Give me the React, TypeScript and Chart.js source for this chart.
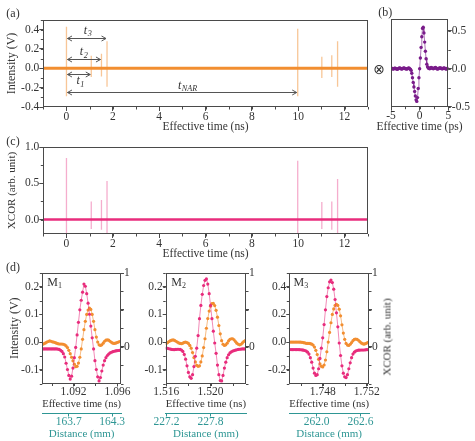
import React, { useEffect, useRef } from 'react';
import { Chart, registerables } from 'chart.js';

Chart.register(...registerables);

const FONT = "'Liberation Serif', 'Times New Roman', serif";
const ORANGE = 'rgb(242,142,48)';
const ORANGE_LIGHT = 'rgba(242,142,48,0.5)';
const ORANGE_LINE = 'rgba(242,142,48,0.6)';
const PINK = 'rgb(232,44,124)';
const PINK_LIGHT = 'rgba(232,60,135,0.42)';
const PINK_LINE = 'rgba(232,44,124,0.55)';
const PURPLE = 'rgb(122,28,138)';
const PURPLE_LINE = 'rgba(122,28,138,0.6)';
const TEAL = 'rgb(46,150,148)';
const AXIS = '#4a4a4a';
const TEXT = '#333';

// ---------- panel (a): intensity trace ----------
const A_BASE_T = [-1, 13];
const A_BASE_V = [0, 0];
const A_SPIKE_T = [0, 1.07, 1.51, 1.75, 9.98, 11.02, 11.45, 11.7];
const A_SPIKE_TOP = [0.43, 0.13, 0.15, 0.28, 0.41, 0.12, 0.135, 0.28];
const A_SPIKE_BOT = [-0.29, -0.09, -0.085, -0.19, -0.29, -0.1, -0.09, -0.19];
const A_X_TICKS = [0, 2, 4, 6, 8, 10, 12];
const A_Y_TICKS = [-0.4, -0.2, 0, 0.2, 0.4];
const A_ARROW_FROM = [0, 0, 0, 0];
const A_ARROW_TO = [1.75, 1.51, 1.07, 9.98];
const A_ARROW_Y = [0.31, 0.1, -0.055, -0.24];
const A_ARROW_MAIN = ['t', 't', 't', 't'];
const A_ARROW_SUB = ['3', '2', '1', 'NAR'];
const A_LABEL_T = [0.82, 0.65, 0.5, 4.88];
const A_LABEL_Y = [0.39, 0.168, -0.134, -0.176];

// ---------- panel (b): reference pulse ----------
const B_T0 = -5;
const B_DT = 0.125;
const B_V = [
  0.0, 0.005, 0.0, -0.005, 0.0, 0.008, 0.005, 0.0, -0.005, -0.008, 0.0, 0.005, 0.01, 0.005, 0.0,
  -0.005, 0.0, 0.008, 0.01, 0.005, 0.0, 0.0, -0.005, 0.0, 0.005, 0.01, 0.0,
  -0.005, -0.02, -0.06, -0.12, -0.18, -0.24, -0.3, -0.36, -0.41, -0.43, -0.38, -0.26, -0.12, 0.0,
  0.14, 0.28, 0.42, 0.53, 0.545, 0.47, 0.35, 0.23, 0.13, 0.06, 0.025, 0.01,
  0.005, 0.0, 0.01, 0.015, 0.01, 0.005, 0.0, 0.005, 0.01, 0.015, 0.01, 0.0, -0.005, 0.0, 0.005,
  0.01, 0.01, 0.005, 0.0, 0.0, 0.005, 0.01, 0.005, 0.0, -0.005, 0.0, 0.005, 0.0,
];
const B_X_TICKS = [-5, 0, 5];
const B_Y_TICKS = [-0.5, 0, 0.5];

// ---------- panel (c): XCOR trace ----------
const C_BASE_T = [-1, 13];
const C_BASE_V = [0, 0];
const C_SPIKE_T = [0, 1.07, 1.51, 1.75, 9.98, 11.02, 11.45, 11.7];
const C_SPIKE_TOP = [0.85, 0.25, 0.27, 0.53, 0.81, 0.24, 0.25, 0.56];
const C_SPIKE_BOT = [-0.2, -0.13, -0.14, -0.2, -0.2, -0.13, -0.14, -0.2];
const C_Y_TICKS = [0, 0.5, 1];

// ---------- panel (d): zooms M1, M2, M3 (sampled every 0.125 ps) ----------
const D_DT = 0.000125;
const M1_T0 = 1.0892;
const M1_ORANGE = [
  -0.008, -0.006, -0.003, 0.0, 0.002, 0.004, 0.003, 0.001, 0.0, -0.002, -0.004, -0.006, -0.007,
  -0.007, -0.007, -0.008, -0.01, -0.014, -0.02, -0.03, -0.042, -0.055, -0.068, -0.08, -0.089,
  -0.088, -0.076, -0.055, -0.025, 0.01, 0.045, 0.075, 0.1, 0.116, 0.123, 0.118, 0.1, 0.075, 0.045,
  0.018, 0.0, -0.01, -0.012, -0.01, -0.004, 0.003, 0.007, 0.008, 0.007, 0.003, -0.001, -0.004,
  -0.005, -0.004, -0.002, 0.0, 0.002,
];
const M1_PINK = [
  -0.03, -0.03, -0.03, -0.03, -0.03, -0.03, -0.03, -0.03, -0.03, -0.031, -0.031, -0.033, -0.037,
  -0.05, -0.065, -0.095, -0.14, -0.225, -0.31, -0.39, -0.44, -0.4, -0.29, -0.15, -0.01, 0.16, 0.33,
  0.5, 0.63, 0.74, 0.85, 0.82, 0.72, 0.59, 0.44, 0.28, 0.12, -0.03, -0.19, -0.31, -0.41, -0.465,
  -0.42, -0.33, -0.25, -0.19, -0.15, -0.12, -0.1, -0.085, -0.076, -0.068, -0.062, -0.058, -0.055,
  -0.052, -0.05,
];
const M2_T0 = 1.516;
const M2_ORANGE = [
  -0.005, -0.002, 0.002, 0.005, 0.007, 0.008, 0.006, 0.003, 0.0, -0.003, -0.005, -0.006, -0.004,
  -0.001, 0.0, -0.002, -0.005, -0.012, -0.022, -0.038, -0.056, -0.072, -0.084, -0.088, -0.086,
  -0.072, -0.05, -0.02, 0.012, 0.05, 0.085, 0.112, 0.13, 0.139, 0.14, 0.132, 0.115, 0.09, 0.06,
  0.03, 0.005, -0.008, -0.012, -0.01, -0.004, 0.004, 0.01, 0.012, 0.012, 0.008, 0.002, -0.004,
  -0.008, -0.01, -0.008, -0.003, 0.002, 0.005,
];
const M2_PINK = [
  -0.02, -0.023, -0.028, -0.033, -0.037, -0.04, -0.04, -0.038, -0.035, -0.035, -0.038, -0.046,
  -0.065, -0.105, -0.17, -0.26, -0.35, -0.41, -0.43, -0.38, -0.27, -0.13, -0.02, 0.15, 0.38, 0.56,
  0.71, 0.83, 0.9, 0.92, 0.85, 0.72, 0.56, 0.38, 0.21, 0.05, -0.09, -0.25, -0.38, -0.46, -0.465,
  -0.39, -0.29, -0.21, -0.15, -0.11, -0.085, -0.07, -0.06, -0.053, -0.047, -0.042, -0.038, -0.035,
  -0.033, -0.031, -0.03, -0.03,
];
const M3_T0 = 1.745;
const M3_ORANGE = [
  0.0, 0.0, 0.0, 0.0, 0.0, 0.0, 0.0, 0.0, -0.001, -0.002, -0.004, -0.006, -0.009, -0.01, -0.01,
  -0.012, -0.015, -0.022, -0.036, -0.06, -0.09, -0.125, -0.158, -0.176, -0.18, -0.166, -0.13, -0.07,
  0.0, 0.07, 0.14, 0.2, 0.24, 0.265, 0.273, 0.265, 0.238, 0.19, 0.125, 0.065, 0.02, -0.01, -0.022,
  -0.024, -0.016, -0.004, 0.01, 0.019, 0.022, 0.02, 0.013, 0.003, -0.006, -0.012, -0.015, -0.012,
  -0.007, -0.002,
];
const M3_PINK = [
  -0.04, -0.04, -0.04, -0.04, -0.04, -0.04, -0.04, -0.041, -0.042, -0.044, -0.047, -0.052, -0.06,
  -0.075, -0.1, -0.15, -0.21, -0.29, -0.36, -0.39, -0.38, -0.3, -0.16, -0.02, 0.12, 0.3, 0.5, 0.68,
  0.8, 0.88, 0.905, 0.87, 0.78, 0.64, 0.46, 0.27, 0.05, -0.12, -0.26, -0.36, -0.41, -0.42, -0.38,
  -0.3, -0.22, -0.15, -0.1, -0.075, -0.06, -0.052, -0.048, -0.046, -0.045, -0.045, -0.045, -0.043,
  -0.041, -0.04,
];
const M1_X_TICKS = [1.092, 1.096];
const M2_X_TICKS = [1.516, 1.52];
const M3_X_TICKS = [1.748, 1.752];
const M12_Y_TICKS = [-0.1, 0, 0.1, 0.2];
const M3_Y_TICKS = [-0.2, 0, 0.2, 0.4];
const XCOR_TICKS = [0, 0.5, 1];
const M1_D_TICKS = [163.7, 164.3];
const M2_D_TICKS = [227.2, 227.8];
const M3_D_TICKS = [262.0, 262.6];

// ---------- helpers ----------
const sampleGrid = (start: number, step: number, n: number) =>
  Array.from({ length: n }, (_, i) => +(start + step * i).toFixed(7));
const pts = (xs: number[], ys: (number | null)[]) => xs.map((x, i) => ({ x, y: ys[i] }));
const spikes = (t: number[], top: number[], bot: number[]) =>
  t.flatMap((x, i) => [{ x, y: bot[i] }, { x, y: top[i] }, { x, y: null }]);

const framePlugin = {
  id: 'frame',
  afterDraw(chart: any, _a: any, opts: any) {
    const { ctx, chartArea: a } = chart;
    ctx.save();
    ctx.strokeStyle = AXIS;
    ctx.lineWidth = 1;
    const l = Math.round(a.left) + 0.5, t = Math.round(a.top) + 0.5;
    const r = Math.round(a.right) - 0.5, b = Math.round(a.bottom) - 0.5;
    ctx.strokeRect(l, t, r - l, b - t);
    for (const m of (opts && opts.minor) || []) {
      const s = chart.scales[m.id];
      if (!s) continue;
      const len = m.len ?? 2.5;
      ctx.strokeStyle = m.color || AXIS;
      const k0 = Math.ceil((s.min - 1e-9) / m.step);
      for (let k = k0; k * m.step <= s.max + 1e-9; k++) {
        const p = Math.round(s.getPixelForValue(k * m.step)) + 0.5;
        ctx.beginPath();
        if (s.isHorizontal()) {
          ctx.moveTo(p, s.top);
          ctx.lineTo(p, s.top + len);
        } else if (s.position === 'left') {
          ctx.moveTo(s.right, p);
          ctx.lineTo(s.right - len, p);
        } else {
          ctx.moveTo(s.left, p);
          ctx.lineTo(s.left + len, p);
        }
        ctx.stroke();
      }
    }
    ctx.restore();
  },
};

function drawSubLabel(ctx: CanvasRenderingContext2D, cx: number, cy: number, main: string, sub: string, size: number) {
  ctx.textBaseline = 'middle';
  ctx.textAlign = 'left';
  ctx.font = `italic ${size}px ${FONT}`;
  const w1 = ctx.measureText(main).width;
  const x0 = cx - w1 / 2;
  ctx.fillText(main, x0, cy);
  ctx.font = `italic ${size * 0.68}px ${FONT}`;
  ctx.fillText(sub, x0 + w1 + 0.5, cy + size * 0.3);
}

const arrowPlugin = {
  id: 'arrows',
  afterDatasetsDraw(chart: any) {
    const { ctx } = chart;
    const xs = chart.scales.x, ys = chart.scales.y;
    ctx.save();
    ctx.strokeStyle = '#555';
    ctx.fillStyle = TEXT;
    ctx.lineWidth = 1;
    A_ARROW_FROM.forEach((f, i) => {
      const x1 = xs.getPixelForValue(f) + 1;
      const x2 = xs.getPixelForValue(A_ARROW_TO[i]) - 1;
      const y = Math.round(ys.getPixelForValue(A_ARROW_Y[i])) + 0.5;
      ctx.beginPath();
      ctx.moveTo(x1, y);
      ctx.lineTo(x2, y);
      ctx.moveTo(x1 + 4.5, y - 2.5);
      ctx.lineTo(x1, y);
      ctx.lineTo(x1 + 4.5, y + 2.5);
      ctx.moveTo(x2 - 4.5, y - 2.5);
      ctx.lineTo(x2, y);
      ctx.lineTo(x2 - 4.5, y + 2.5);
      ctx.stroke();
      drawSubLabel(ctx, xs.getPixelForValue(A_LABEL_T[i]), ys.getPixelForValue(A_LABEL_Y[i]), A_ARROW_MAIN[i], A_ARROW_SUB[i], 12);
    });
    ctx.restore();
  },
};

type AxisOpt = {
  pos: 'left' | 'right' | 'bottom';
  min: number;
  max: number;
  ticks: number[];
  fmt: (v: number) => string;
  size: number;
  tickLen?: number;
  color?: string;
  labelColor?: string;
  title?: string;
  titleSize?: number;
  titlePad?: any;
  border?: boolean;
  weight?: number;
};

function axis(o: AxisOpt) {
  const vertical = o.pos === 'left' || o.pos === 'right';
  return {
    type: 'linear',
    position: o.pos,
    min: o.min,
    max: o.max,
    weight: o.weight ?? 0,
    afterBuildTicks: (s: any) => {
      s.ticks = o.ticks.map((v) => ({ value: v }));
    },
    afterFit: (s: any) => {
      if (vertical) s.width = o.size;
      else s.height = o.size;
    },
    grid: {
      display: true,
      drawOnChartArea: false,
      drawTicks: true,
      tickLength: o.tickLen ?? 4,
      color: o.color ?? AXIS,
      lineWidth: 1,
    },
    border: { display: !!o.border, color: o.color ?? AXIS, width: 1 },
    ticks: {
      callback: (v: any) => o.fmt(Number(v)),
      color: o.labelColor ?? TEXT,
      padding: 0,
      autoSkip: false,
      maxRotation: 0,
      font: { family: FONT, size: 11.5, lineHeight: 1 },
    },
    title: o.title
      ? {
          display: true,
          text: o.title,
          color: o.labelColor ?? TEXT,
          font: { family: FONT, size: o.titleSize ?? 12, lineHeight: 1.2 },
          padding: o.titlePad,
        }
      : { display: false },
  };
}

function baseOptions(padding: any, scales: any, minor: any[]) {
  return {
    responsive: false,
    animation: false,
    devicePixelRatio: 1,
    events: [],
    layout: { padding },
    scales,
    plugins: {
      legend: { display: false },
      tooltip: { enabled: false },
      frame: { minor },
    },
  };
}

function cfgA() {
  return {
    type: 'line',
    data: {
      datasets: [
        { data: pts(A_BASE_T, A_BASE_V), borderColor: ORANGE, borderWidth: 3, pointRadius: 0 },
        { data: spikes(A_SPIKE_T, A_SPIKE_TOP, A_SPIKE_BOT), borderColor: ORANGE_LIGHT, borderWidth: 1.3, pointRadius: 0, spanGaps: false },
      ],
    },
    options: baseOptions(
      { left: 0, top: 20, right: 2.3, bottom: 0 },
      {
        x: axis({ pos: 'bottom', min: -1, max: 13, ticks: A_X_TICKS, fmt: (v) => String(v), size: 28, title: 'Effective time (ns)', titleSize: 11.5, titlePad: { top: 0, bottom: 1.1 } }),
        y: axis({ pos: 'left', min: -0.4, max: 0.5, ticks: A_Y_TICKS, fmt: (v) => v.toFixed(1), size: 43.3, title: 'Intensity (V)', titleSize: 12, titlePad: { top: 4.5, bottom: 0 } }),
      },
      [{ id: 'x', step: 1 }, { id: 'y', step: 0.1 }],
    ),
    plugins: [framePlugin, arrowPlugin],
  };
}

function cfgB() {
  return {
    type: 'line',
    data: {
      datasets: [
        {
          data: pts(sampleGrid(B_T0, B_DT, B_V.length), B_V),
          borderColor: PURPLE_LINE,
          borderWidth: 1,
          pointRadius: 1.7,
          pointBackgroundColor: PURPLE,
          pointBorderWidth: 0,
        },
      ],
    },
    options: baseOptions(
      { left: 6, top: 19.3, right: 0, bottom: 0 },
      {
        x: axis({ pos: 'bottom', min: -5, max: 5, ticks: B_X_TICKS, fmt: (v) => String(v), size: 18.3 }),
        y: axis({ pos: 'right', min: -0.5, max: 0.65, ticks: B_Y_TICKS, fmt: (v) => v.toFixed(1), size: 26.7, tickLen: 3.5 }),
      },
      [{ id: 'x', step: 2.5 }, { id: 'y', step: 0.25 }],
    ),
    plugins: [framePlugin],
  };
}

function cfgC() {
  return {
    type: 'line',
    data: {
      datasets: [
        { data: pts(C_BASE_T, C_BASE_V), borderColor: PINK, borderWidth: 2.4, pointRadius: 0 },
        { data: spikes(C_SPIKE_T, C_SPIKE_TOP, C_SPIKE_BOT), borderColor: PINK_LIGHT, borderWidth: 1.3, pointRadius: 0, spanGaps: false },
      ],
    },
    options: baseOptions(
      { left: 0, top: 19, right: 2.3, bottom: 0 },
      {
        x: axis({ pos: 'bottom', min: -1, max: 13, ticks: A_X_TICKS, fmt: (v) => String(v), size: 28, title: 'Effective time (ns)', titleSize: 11.5, titlePad: { top: 0, bottom: 1.1 } }),
        y: axis({ pos: 'left', min: -0.2, max: 1, ticks: C_Y_TICKS, fmt: (v) => v.toFixed(1), size: 43.3, title: 'XCOR (arb. unit)', titleSize: 11, titlePad: { top: 5.1, bottom: 0 } }),
      },
      [{ id: 'x', step: 1 }, { id: 'y', step: 0.25 }],
    ),
    plugins: [framePlugin],
  };
}

type DOpt = {
  t0: number;
  orange: number[];
  pink: number[];
  xMin: number;
  xMax: number;
  xTicks: number[];
  yMin: number;
  yMax: number;
  yTicks: number[];
  yMinor: number;
  dMin: number;
  dMax: number;
  dTicks: number[];
  leftW: number;
  leftTitle?: string;
};

function cfgD(o: DOpt) {
  const t = sampleGrid(o.t0, D_DT, o.orange.length);
  return {
    type: 'line',
    data: {
      datasets: [
        {
          data: pts(t, o.pink),
          yAxisID: 'y1',
          borderColor: PINK_LINE,
          borderWidth: 1,
          pointRadius: 1.6,
          pointBackgroundColor: PINK,
          pointBorderWidth: 0,
        },
        {
          data: pts(t, o.orange),
          yAxisID: 'y',
          borderColor: ORANGE_LINE,
          borderWidth: 1,
          pointRadius: 1.6,
          pointBackgroundColor: ORANGE,
          pointBorderWidth: 0,
        },
      ],
    },
    options: baseOptions(
      { left: 0, top: 11, right: 0, bottom: 0 },
      {
        x: axis({ pos: 'bottom', min: o.xMin, max: o.xMax, ticks: o.xTicks, fmt: (v) => v.toFixed(3), size: 30, tickLen: 3, title: 'Effective time (ns)', titleSize: 11, titlePad: { top: 0, bottom: 3.2 }, weight: 0 }),
        x2: axis({ pos: 'bottom', min: o.dMin, max: o.dMax, ticks: o.dTicks, fmt: (v) => v.toFixed(1), size: 27.5, tickLen: 3, color: TEAL, labelColor: TEAL, border: true, title: 'Distance (mm)', titleSize: 11, titlePad: { top: 0, bottom: 0.4 }, weight: 1 }),
        y: axis({ pos: 'left', min: o.yMin, max: o.yMax, ticks: o.yTicks, fmt: (v) => v.toFixed(1), size: o.leftW, tickLen: 3, title: o.leftTitle, titleSize: 12, titlePad: { top: 7.8, bottom: 0 } }),
        y1: axis({ pos: 'right', min: -0.5, max: 1, ticks: XCOR_TICKS, fmt: (v) => (v === 1 ? '1' : v === 0 ? '0' : ''), size: 14, tickLen: 3 }),
      },
      [
        { id: 'x', step: 0.002 },
        { id: 'y', step: o.yMinor },
        { id: 'y1', step: 0.25 },
      ],
    ),
    plugins: [framePlugin],
  };
}

const CHARTS = [
  { left: 0, top: 0, width: 370, height: 135, make: cfgA },
  { left: 384.7, top: 0, width: 90.3, height: 125, make: cfgB },
  { left: 0, top: 128, width: 370, height: 134, make: cfgC },
  {
    left: 0, top: 262, width: 135, height: 179,
    make: () => cfgD({ t0: M1_T0, orange: M1_ORANGE, pink: M1_PINK, xMin: 1.08916, xMax: 1.09632, xTicks: M1_X_TICKS, yMin: -0.15, yMax: 0.25, yTicks: M12_Y_TICKS, yMinor: 0.05, dMin: 163.334, dMax: 164.423, dTicks: M1_D_TICKS, leftW: 42.3, leftTitle: 'Intensity (V)' }),
  },
  {
    left: 137, top: 262, width: 122.7, height: 179,
    make: () => cfgD({ t0: M2_T0, orange: M2_ORANGE, pink: M2_PINK, xMin: 1.51595, xMax: 1.5232, xTicks: M2_X_TICKS, yMin: -0.15, yMax: 0.25, yTicks: M12_Y_TICKS, yMinor: 0.05, dMin: 227.189, dMax: 228.285, dTicks: M2_D_TICKS, leftW: 28.7 }),
  },
  {
    left: 260, top: 262, width: 123, height: 179,
    make: () => cfgD({ t0: M3_T0, orange: M3_ORANGE, pink: M3_PINK, xMin: 1.74496, xMax: 1.75221, xTicks: M3_X_TICKS, yMin: -0.3, yMax: 0.5, yTicks: M3_Y_TICKS, yMinor: 0.1, dMin: 261.625, dMax: 262.717, dTicks: M3_D_TICKS, leftW: 29.3 }),
  },
];

function Txt(props: { x: number; y: number; size?: number; color?: string; rotate?: number; family?: string; children: any }) {
  const { x, y, size = 12, color = TEXT, rotate = 0, family = FONT, children } = props;
  return (
    <div
      style={{
        position: 'absolute',
        left: x,
        top: y,
        transform: `translate(-50%, -50%)${rotate ? ` rotate(${rotate}deg)` : ''}`,
        fontFamily: family,
        fontSize: size,
        color,
        lineHeight: 1,
        whiteSpace: 'nowrap',
      }}
    >
      {children}
    </div>
  );
}

const subStyle: React.CSSProperties = { fontSize: 8, verticalAlign: 'baseline', position: 'relative', top: 2 };

export default function App() {
  const refs = useRef<(HTMLCanvasElement | null)[]>([]);
  useEffect(() => {
    const charts = CHARTS.map((c, i) => new Chart(refs.current[i] as HTMLCanvasElement, c.make() as any));
    return () => charts.forEach((ch) => ch.destroy());
  }, []);
  return (
    <div style={{ position: 'fixed', left: 0, top: 0, width: 475, height: 441, background: '#fff', overflow: 'hidden' }}>
      {CHARTS.map((c, i) => (
        <canvas
          key={i}
          ref={(el) => {
            refs.current[i] = el;
          }}
          width={Math.round(c.width)}
          height={c.height}
          style={{ position: 'absolute', left: c.left, top: c.top, width: Math.round(c.width), height: c.height }}
        />
      ))}
      <Txt x={13} y={12.7}>(a)</Txt>
      <Txt x={385.3} y={12}>(b)</Txt>
      <Txt x={13} y={140.7}>(c)</Txt>
      <Txt x={13} y={266.5}>(d)</Txt>
      <Txt x={379} y={69} size={14} family="'DejaVu Sans', sans-serif">⊗</Txt>
      <Txt x={419.5} y={127} size={11.5}>Effective time (ps)</Txt>
      <Txt x={386.7} y={337} size={11} rotate={-90}>XCOR (arb. unit)</Txt>
      <Txt x={54.7} y={282}>
        M<span style={subStyle}>1</span>
      </Txt>
      <Txt x={178.7} y={282}>
        M<span style={subStyle}>2</span>
      </Txt>
      <Txt x={300.8} y={282}>
        M<span style={subStyle}>3</span>
      </Txt>
    </div>
  );
}
